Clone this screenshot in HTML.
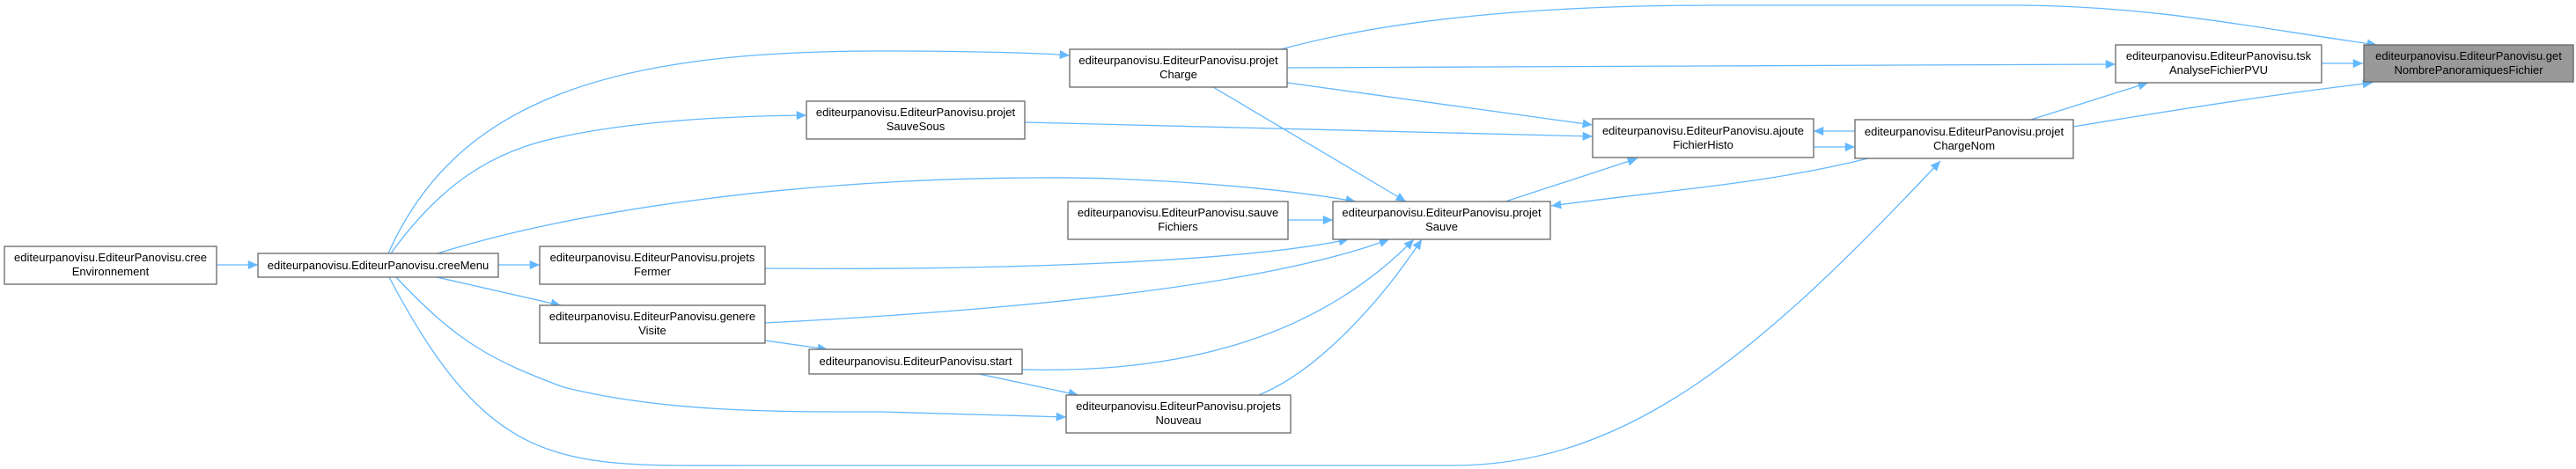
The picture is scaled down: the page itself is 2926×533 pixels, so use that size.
<!DOCTYPE html>
<html><head><meta charset="utf-8"><style>
html,body{margin:0;padding:0;background:#fff;}
svg{display:block;}
text{font-family:"Liberation Sans",sans-serif;font-size:13px;fill:#000;}
.e{fill:none;stroke:#63b8ff;stroke-width:1.3;marker-end:url(#a);}
.n{fill:#fff;stroke:#666;stroke-width:1.3;}
</style></head><body>
<svg width="2926" height="533" viewBox="0 0 2926 533" xmlns="http://www.w3.org/2000/svg">
<defs>
<marker id="a" viewBox="0 0 10 10" refX="10" refY="5" markerWidth="8" markerHeight="8" markerUnits="userSpaceOnUse" orient="auto" style="overflow:visible">
<path d="M0,0.5 L10,5 L0,9.5 z" fill="#63b8ff" transform="scale(1.4) translate(-2.9,-1.4)"/>
</marker>
</defs>
<g>
<path class="e" d="M246,301 L293,301"/>
<path class="e" d="M441,288 C520,110 700,58 1000,58 C1100,58 1180,60 1215,63"/>
<path class="e" d="M444,288 C500,210 560,170 640,155 C720,138 820,132 916,131"/>
<path class="e" d="M497,288 C650,240 900,203 1180,202 C1300,201 1450,213 1540,229"/>
<path class="e" d="M566,301 L613,301"/>
<path class="e" d="M496,315 L637,347"/>
<path class="e" d="M450,315 C520,390 560,410 640,440 C760,470 900,468 1000,468 L1211,474"/>
<path class="e" d="M442,315 C560,540 640,529 850,529 L1650,529 C1850,529 2000,400 2204,183"/>
<path class="e" d="M1455,56 C1550,30 1700,6 1950,6 L2300,6 C2450,8 2550,30 2700,51"/>
<path class="e" d="M1462,77 L2403,73"/>
<path class="e" d="M1462,94 L1809,142"/>
<path class="e" d="M1378,99 L1597,229"/>
<path class="e" d="M1164,139 L1809,155"/>
<path class="e" d="M1710,229 L1860,180"/>
<path class="e" d="M2107,149 L2060,149"/>
<path class="e" d="M2060,167 L2107,167"/>
<path class="e" d="M2122,180 C2000,210 1900,215 1762,234"/>
<path class="e" d="M2307,136 L2440,94"/>
<path class="e" d="M2355,144 C2500,120 2600,105 2695,94"/>
<path class="e" d="M2637,72 L2684,72"/>
<path class="e" d="M1463,250 L1514,250"/>
<path class="e" d="M869,305 C1100,307 1400,300 1532,272"/>
<path class="e" d="M869,367 C1200,350 1450,320 1578,272"/>
<path class="e" d="M869,387 L940,397"/>
<path class="e" d="M1161,420 C1350,425 1500,380 1606,272"/>
<path class="e" d="M1112,425 L1225,449"/>
<path class="e" d="M1430,449 C1500,420 1570,340 1615,272"/>
</g>
<g text-anchor="middle">
<rect class="n" x="5" y="280" width="241" height="43"/>
<text x="125.5" y="297">editeurpanovisu.EditeurPanovisu.cree</text><text x="125.5" y="313">Environnement</text>
<rect class="n" x="293" y="288" width="273" height="27"/>
<text x="429.5" y="306">editeurpanovisu.EditeurPanovisu.creeMenu</text>
<rect class="n" x="613" y="280" width="256" height="43"/>
<text x="741" y="297">editeurpanovisu.EditeurPanovisu.projets</text><text x="741" y="313">Fermer</text>
<rect class="n" x="613" y="347" width="256" height="43"/>
<text x="741" y="364">editeurpanovisu.EditeurPanovisu.genere</text><text x="741" y="380">Visite</text>
<rect class="n" x="916" y="115" width="248" height="43"/>
<text x="1040" y="132">editeurpanovisu.EditeurPanovisu.projet</text><text x="1040" y="148">SauveSous</text>
<rect class="n" x="919" y="397" width="242" height="28"/>
<text x="1040" y="415">editeurpanovisu.EditeurPanovisu.start</text>
<rect class="n" x="1215" y="56" width="247" height="43"/>
<text x="1338.5" y="73">editeurpanovisu.EditeurPanovisu.projet</text><text x="1338.5" y="89">Charge</text>
<rect class="n" x="1213" y="229" width="250" height="43"/>
<text x="1338" y="246">editeurpanovisu.EditeurPanovisu.sauve</text><text x="1338" y="262">Fichiers</text>
<rect class="n" x="1514" y="229" width="247" height="43"/>
<text x="1637.5" y="246">editeurpanovisu.EditeurPanovisu.projet</text><text x="1637.5" y="262">Sauve</text>
<rect class="n" x="1211" y="449" width="255" height="43"/>
<text x="1338.5" y="466">editeurpanovisu.EditeurPanovisu.projets</text><text x="1338.5" y="482">Nouveau</text>
<rect class="n" x="1809" y="135" width="251" height="44"/>
<text x="1934.5" y="153">editeurpanovisu.EditeurPanovisu.ajoute</text><text x="1934.5" y="169">FichierHisto</text>
<rect class="n" x="2107" y="136" width="248" height="44"/>
<text x="2231" y="154">editeurpanovisu.EditeurPanovisu.projet</text><text x="2231" y="170">ChargeNom</text>
<rect class="n" x="2403" y="51" width="234" height="43"/>
<text x="2520" y="68">editeurpanovisu.EditeurPanovisu.tsk</text><text x="2520" y="84">AnalyseFichierPVU</text>
<rect x="2685" y="51" width="238" height="42" fill="#999" stroke="#666" stroke-width="1.3"/>
<text x="2804" y="68">editeurpanovisu.EditeurPanovisu.get</text><text x="2804" y="84">NombrePanoramiquesFichier</text>
</g>
</svg>
</body></html>
